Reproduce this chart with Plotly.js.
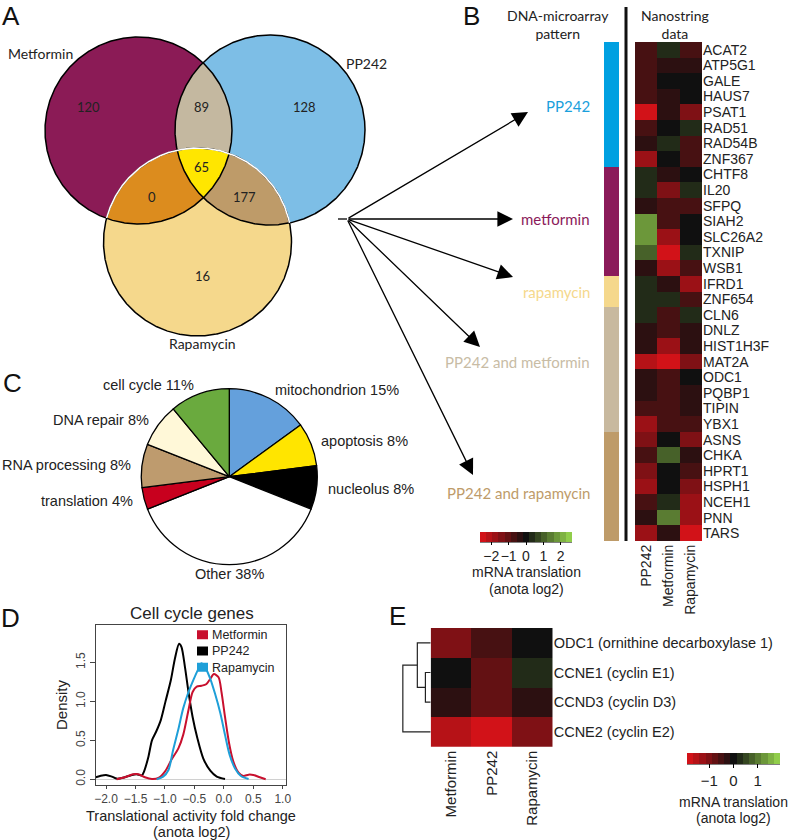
<!DOCTYPE html>
<html><head><meta charset="utf-8">
<script src="https://cdn.plot.ly/plotly-3.0.1.min.js"></script>
<style>html,body{margin:0;padding:0;background:#fff}</style>
</head><body><div id="chart" style="width:790px;height:840px"></div>
<script>
// ---------------- DATA ----------------
// A: Venn
const vennSetNames = ['Metformin','PP242','Rapamycin'];
const vennRegionNames = ['Metformin only','Metformin & PP242','PP242 only','all three','Metformin & Rapamycin','PP242 & Rapamycin','Rapamycin only'];
const vennRegionCounts = [120, 89, 128, 65, 0, 177, 16];

// B: Nanostring heatmap
const nanoGenes = ['ACAT2','ATP5G1','GALE','HAUS7','PSAT1','RAD51','RAD54B','ZNF367',
  'CHTF8','IL20','SFPQ','SIAH2','SLC26A2','TXNIP','WSB1','IFRD1','ZNF654',
  'CLN6','DNLZ','HIST1H3F','MAT2A','ODC1','PQBP1','TIPIN','YBX1',
  'ASNS','CHKA','HPRT1','HSPH1','NCEH1','PNN','TARS'];
const nanoConditions = ['PP242','Metformin','Rapamycin'];
const nanoPP242 = [-0.7,-0.7,-0.7,-0.7,-2.5,-0.6,-0.45,-1.8,
  0.3,0.3,-0.45,1.6,1.9,0.9,-0.35,0.3,0.3,
  0.3,-0.45,-0.45,-2.0,-0.45,-0.45,-0.65,-1.7,
  -1.4,-0.6,-1.4,-1.8,-0.65,-0.35,-1.8];
const nanoMetformin = [0.35,-0.45,0.0,-0.4,-0.45,0.0,0.35,0.0,
  -0.45,-1.3,-0.7,-0.7,-1.8,-2.5,-1.7,-0.4,0.3,
  -0.7,-0.7,-1.7,-2.6,-0.7,-0.7,-0.65,-0.7,
  0.0,0.95,0.0,0.0,0.35,1.45,-0.4];
const nanoRapamycin = [-0.7,-0.5,0.0,0.0,-1.5,0.3,-0.6,-0.6,
  0.0,0.3,-0.7,0.0,0.0,0.3,-0.7,-1.8,-0.6,
  0.4,-0.45,-0.45,-1.4,0.0,-0.45,-0.45,-0.7,
  -1.4,-0.45,-0.8,-1.3,-1.7,-1.7,-2.5];
const patternNames = ['PP242','metformin','rapamycin','PP242 and metformin','PP242 and rapamycin'];
const patternCounts = [8, 7, 2, 8, 7];
const nanoTicks = [-2,-1,0,1,2];

// C: pie
const pieLabels = ['mitochondrion','apoptosis','nucleolus','Other','translation','RNA processing','DNA repair','cell cycle'];
const pieValues = [15, 8, 8, 38, 4, 8, 8, 11];

// D: density curves (x = fold change, y = density)
const densMetforminX = [-1.82,-1.68,-1.54,-1.45,-1.34,-1.22,-1.11,-1.00,-0.89,-0.77,-0.69,-0.60,-0.53,-0.46,-0.38,-0.30,-0.23,-0.17,-0.09,-0.04,0.02,0.09,0.16,0.25,0.33,0.42,0.50,0.61,0.71];
const densMetforminY = [0.0,0.026,0.064,0.064,0.026,0.004,0.017,0.098,0.25,0.40,0.57,0.89,1.12,1.19,1.20,1.22,1.29,1.35,1.31,1.12,0.80,0.46,0.23,0.085,0.043,0.06,0.056,0.026,0.0];
const densPP242X = [-2.175,-2.10,-2.00,-1.90,-1.82,-1.71,-1.56,-1.48,-1.39,-1.355,-1.28,-1.22,-1.15,-1.07,-0.99,-0.90,-0.83,-0.76,-0.72,-0.66,-0.60,-0.53,-0.45,-0.35,-0.23,-0.12,0.02];
const densPP242Y = [0.026,0.043,0.056,0.034,0.009,0.021,0.056,0.064,0.051,0.10,0.29,0.50,0.61,0.76,1.00,1.27,1.55,1.74,1.70,1.44,1.12,0.80,0.53,0.27,0.11,0.034,0.004];
const densRapamycinX = [-1.14,-1.03,-0.94,-0.86,-0.77,-0.69,-0.60,-0.52,-0.43,-0.38,-0.32,-0.23,-0.15,-0.06,0.02,0.10,0.19,0.29,0.42];
const densRapamycinY = [0.0,0.034,0.12,0.38,0.65,0.91,1.12,1.27,1.42,1.49,1.44,1.29,1.10,0.85,0.57,0.31,0.14,0.043,0.004];
const densLegendNames = ['Metformin','PP242','Rapamycin'];
const densTicksX = [-2.0,-1.5,-1.0,-0.5,0.0,0.5,1.0];
const densTicksY = [0.0,0.5,1.0,1.5];

// E: cell-cycle heatmap + dendrogram
const eGenes = ['ODC1 (ornithine decarboxylase 1)','CCNE1 (cyclin E1)','CCND3 (cyclin D3)','CCNE2 (cyclin E2)'];
const eConditions = ['Metformin','PP242','Rapamycin'];
const eMetformin = [-0.95,-0.05,-0.3,-1.6];
const eP242 = [-0.4,-0.9,-0.9,-1.8];
const eRapamycin = [-0.02,0.3,-0.25,-1.0];
const eDendroMerges = [[1,2,0.19],[0,-1,0.48],[-2,3,1.0]]; // negative index = earlier merge
const eTicks = [-1,0,1];

// ---------------- STYLE / GEOMETRY ----------------
const W = 790, H = 840;
const FONT = 'Liberation Sans, Arial, sans-serif';
const FONT2 = 'Lato, Liberation Sans, sans-serif';
const circ = {
  M: {cx:138.5, cy:130.5, r:93.5},
  P: {cx:270, cy:130, r:95},
  R: {cx:197.5, cy:242, r:94}
};
const vennColors = {M:'#8B1B56', P:'#7DBEE6', MP:'#C4B8A0', R:'#F5D88C', MR:'#DC8C1E', PR:'#BE9B69', MPR:'#FFE600'};
const vennCountPos = [[88,107],[201,107],[304,107],[201,167],[152,197],[244,197],[202,276]];
const patternColors = ['#00A0E1','#8B1B5A','#F5D88C','#C8B99F','#BE9B69'];
const patternTextColors = ['#1AA0DC','#8B1B5A','#F5D88C','#C8BCA5','#BE9B69'];
const patternLabelY = [106, 219, 292, 362, 493];
const arrowTips = [[528,112],[513,219],[513,277],[480,347],[473,475]];
const arrowOrigin = [347,219];
const pieColors = ['#64A0DC','#FFE500','#000000','#FFFFFF','#C8001E','#BE9B6E','#FFF8D8','#6AAA3E'];
const pieC = {cx:229.3, cy:476.7, r:88};
const densColors = {Metformin:'#C8102E', PP242:'#000000', Rapamycin:'#1E9FD8'};
const densLegend = {x:197, yMid:651, font:12.5};

function mix(a,b,u){return 'rgb('+a.map((v,i)=>Math.round(v+(b[i]-v)*u)).join(',')+')';}
function steppedScale(n, neg, mid, pos){
  const s=[];
  for(let i=0;i<n;i++){
    const t=i/(n-1);
    const c = t<=0.5 ? mix(neg,mid,t/0.5) : mix(mid,pos,(t-0.5)/0.5);
    s.push([i/n,c]); s.push([(i+1)/n,c]);
  }
  return s;
}
const rgScale = steppedScale(15,[210,18,24],[16,16,16],[145,205,75]);

// ---------------- VENN geometry ----------------
function circlePts(c,n){const a=[];for(let i=0;i<n;i++){const t=2*Math.PI*i/n;a.push([c.cx+c.r*Math.cos(t),c.cy+c.r*Math.sin(t)]);}return a;}
function inC(p,c){const dx=p[0]-c.cx,dy=p[1]-c.cy;return dx*dx+dy*dy<=c.r*c.r+1e-6;}
function interPoly(cs){
  const pts=[];
  cs.forEach((c,i)=>circlePts(c,1440).forEach(p=>{if(cs.every((d,j)=>j===i||inC(p,d)))pts.push(p);}));
  const mx=pts.reduce((s,p)=>s+p[0],0)/pts.length, my=pts.reduce((s,p)=>s+p[1],0)/pts.length;
  pts.sort((a,b)=>Math.atan2(a[1]-my,a[0]-mx)-Math.atan2(b[1]-my,b[0]-mx));
  return pts;
}
function polyTrace(pts,color){
  return {type:'scatter',mode:'lines',x:pts.map(p=>p[0]).concat([pts[0][0]]),y:pts.map(p=>p[1]).concat([pts[0][1]]),
    fill:'toself',fillcolor:color,line:{width:0},hoverinfo:'skip',showlegend:false,xaxis:'x',yaxis:'y'};
}
function lineTrace(pts,color,w,close){
  const xs=pts.map(p=>p[0]), ys=pts.map(p=>p[1]);
  if(close){xs.push(pts[0][0]);ys.push(pts[0][1]);}
  return {type:'scatter',mode:'lines',x:xs,y:ys,line:{color:color,width:w},hoverinfo:'skip',showlegend:false,xaxis:'x',yaxis:'y'};
}
const traces = [];
traces.push(polyTrace(circlePts(circ.M,720),vennColors.M));
traces.push(polyTrace(circlePts(circ.P,720),vennColors.P));
traces.push(polyTrace(interPoly([circ.M,circ.P]),vennColors.MP));
traces.push(polyTrace(circlePts(circ.R,720),vennColors.R));
traces.push(polyTrace(interPoly([circ.M,circ.R]),vennColors.MR));
traces.push(polyTrace(interPoly([circ.P,circ.R]),vennColors.PR));
traces.push(polyTrace(interPoly([circ.M,circ.P,circ.R]),vennColors.MPR));
traces.push(lineTrace(circlePts(circ.M,720),'#000',1.5,true));
traces.push(lineTrace(circlePts(circ.P,720),'#000',1.5,true));
traces.push(lineTrace(circlePts(circ.R,720),'#000',1.5,true));
(function(){
  const arc=[];
  for(let i=0;i<=1440;i++){const t=-Math.PI+2*Math.PI*i/1440;const a=-Math.PI/2+t;
    const p=[circ.R.cx+circ.R.r*Math.cos(a),circ.R.cy+circ.R.r*Math.sin(a)];
    if(inC(p,circ.M)||inC(p,circ.P))arc.push(p);}
  traces.push(lineTrace(arc,'#fff',1.6,false));
})();

// ---------------- B heatmaps ----------------
const rowIdx = nanoGenes.map((g,i)=>i);
traces.push({type:'heatmap',z:nanoGenes.map((g,i)=>[nanoPP242[i],nanoMetformin[i],nanoRapamycin[i]]),
  x:[0,1,2],y:rowIdx,coloraxis:'coloraxis',xaxis:'x2',yaxis:'y2',hoverinfo:'skip'});
const patternRows=[];
patternCounts.forEach((n,k)=>{for(let i=0;i<n;i++)patternRows.push([k]);});
const patScale=[];
patternColors.forEach((c,k)=>{patScale.push([k/patternColors.length,c]);patScale.push([(k+1)/patternColors.length,c]);});
traces.push({type:'heatmap',z:patternRows,x:[0],y:rowIdx,zmin:-0.5,zmax:patternColors.length-0.5,colorscale:patScale,
  showscale:false,xaxis:'x3',yaxis:'y3',hoverinfo:'skip'});

// ---------------- C pie ----------------
traces.push({type:'pie',labels:pieLabels,values:pieValues,sort:false,direction:'clockwise',rotation:0,
  marker:{colors:pieColors,line:{color:'#000',width:1.3}},textinfo:'none',hoverinfo:'skip',showlegend:false,
  domain:{x:[(pieC.cx-pieC.r)/W,(pieC.cx+pieC.r)/W],y:[1-(pieC.cy+pieC.r)/H,1-(pieC.cy-pieC.r)/H]}});

// ---------------- D density ----------------
[['PP242',densPP242X,densPP242Y],['Metformin',densMetforminX,densMetforminY],['Rapamycin',densRapamycinX,densRapamycinY]].forEach(d=>{
  traces.push({type:'scatter',mode:'lines',x:d[1],y:d[2],line:{color:densColors[d[0]],width:2,shape:'spline',smoothing:0.8},
    xaxis:'x4',yaxis:'y4',showlegend:false,hoverinfo:'skip'});
});

// ---------------- E heatmap + dendrogram ----------------
traces.push({type:'heatmap',z:eGenes.map((g,i)=>[eMetformin[i],eP242[i],eRapamycin[i]]),x:[0,1,2],y:eGenes.map((g,i)=>i),
  coloraxis:'coloraxis2',xaxis:'x5',yaxis:'y5',hoverinfo:'skip'});
(function(){
  const nodes=eGenes.map((g,i)=>({y:i,h:0}));
  const merged=[];
  const get=k=>k>=0?nodes[k]:merged[-k-1];
  const xs=[],ys=[];
  eDendroMerges.forEach(m=>{
    const a=get(m[0]),b=get(m[1]),h=m[2];
    xs.push(a.h,h,h,b.h,null);ys.push(a.y,a.y,b.y,b.y,null);
    merged.push({y:(a.y+b.y)/2,h:h});
  });
  traces.push({type:'scatter',mode:'lines',x:xs,y:ys,line:{color:'#222',width:1.2},xaxis:'x6',yaxis:'y6',showlegend:false,hoverinfo:'skip'});
})();

// ---------------- annotations ----------------
const ann=[];
function txt(x,y,t,opt){ann.push(Object.assign({xref:'x',yref:'y',x:x,y:y,text:t,showarrow:false,font:{family:FONT,size:14,color:'#222'}},opt||{}));}
// panel letters
[['A',11,16],['B',471,16],['C',12,383],['D',10,618],['E',397,616]].forEach(l=>txt(l[1],l[2],l[0],{font:{family:FONT,size:26,color:'#111'}}));
// venn labels
txt(40,53,vennSetNames[0],{font:{family:FONT2,size:14,color:'#222'}});
txt(366,63,vennSetNames[1],{font:{family:FONT2,size:14,color:'#222'}});
txt(202,343,vennSetNames[2],{font:{family:FONT2,size:14,color:'#222'}});
vennRegionCounts.forEach((c,i)=>txt(vennCountPos[i][0],vennCountPos[i][1],String(c),{font:{family:FONT2,size:13,color:'#222'}}));
// B headers
txt(558,24,'DNA-microarray<br>pattern',{font:{family:FONT2,size:14,color:'#222'}});
txt(675,24,'Nanostring<br>data',{font:{family:FONT2,size:14,color:'#222'}});
patternNames.forEach((n,k)=>txt(592,patternLabelY[k],n,{xanchor:'right',font:{family:FONT2,size:15,color:patternTextColors[k]}}));
arrowTips.forEach(t=>ann.push({xref:'x',yref:'y',axref:'x',ayref:'y',x:t[0],y:t[1],ax:arrowOrigin[0],ay:arrowOrigin[1],
  text:'',showarrow:true,arrowhead:2,arrowsize:2.4,arrowwidth:1.3,arrowcolor:'#000',standoff:0,startstandoff:0}));
// colorbar titles
txt(526,572,'mRNA translation',{font:{family:FONT,size:14,color:'#222'}});
txt(526,589,'(anota log2)',{font:{family:FONT,size:14,color:'#222'}});
txt(733.5,802,'mRNA translation',{font:{family:FONT,size:14,color:'#222'}});
txt(733.5,818,'(anota log2)',{font:{family:FONT,size:14,color:'#222'}});
// pie labels
(function(){
  const tot=pieValues.reduce((a,b)=>a+b,0);let cum=0;
  pieLabels.forEach((l,i)=>{
    const mid=(cum+pieValues[i]/2)/tot*2*Math.PI;cum+=pieValues[i];
    const s=Math.sin(mid),c=Math.cos(mid),d=97;
    const xa=s>0.3?'left':(s<-0.3?'right':'center');
    txt(pieC.cx+d*s,pieC.cy-d*c,l+' '+pieValues[i]+'%',{xanchor:xa,font:{family:FONT,size:14.5,color:'#222'}});
  });
})();
// D titles + legend
txt(192,613,'Cell cycle genes',{font:{family:FONT,size:17,color:'#222'}});
txt(191,815.5,'Translational activity fold change',{font:{family:FONT,size:14.5,color:'#222'}});
txt(191,832,'(anota log2)',{font:{family:FONT,size:14.5,color:'#222'}});
const shapes=[
  {type:'line',xref:'x',yref:'y',x0:338,x1:347,y0:219,y1:219,line:{color:'#000',width:1.3}},
  {type:'line',xref:'x',yref:'y',x0:626,x1:626,y0:7,y1:541,line:{color:'#111',width:3}},
  {type:'line',xref:'x',yref:'y',x0:480,x1:572,y0:542,y1:542,line:{color:'#000',width:1.2}},
  {type:'line',xref:'x',yref:'y',x0:687,x1:780,y0:764,y1:764,line:{color:'#000',width:1.2}}
];
(function(){
  const lh=densLegend.font*1.3, n=densLegendNames.length;
  densLegendNames.forEach((nm,k)=>{
    const yc=densLegend.yMid+(k-(n-1)/2)*lh;
    shapes.push({type:'rect',xref:'x',yref:'y',x0:densLegend.x,x1:densLegend.x+11,y0:yc-4.5,y1:yc+4.5,fillcolor:densColors[nm],line:{width:0}});
  });
  txt(densLegend.x+13,densLegend.yMid,densLegendNames.join('<br>'),{xanchor:'left',align:'left',font:{family:FONT,size:densLegend.font,color:'#222'}});
})();

const noAx={showgrid:false,zeroline:false,automargin:false,fixedrange:true};
const layout={
  width:W,height:H,margin:{l:0,r:0,t:0,b:0,autoexpand:false},
  paper_bgcolor:'#fff',plot_bgcolor:'rgba(0,0,0,0)',
  font:{family:FONT,color:'#222'},
  showlegend:false,
  xaxis:Object.assign({},noAx,{domain:[0,1],range:[0,W],visible:false}),
  yaxis:Object.assign({},noAx,{domain:[0,1],range:[H,0],visible:false}),
  xaxis2:Object.assign({},noAx,{domain:[635/W,702/W],anchor:'y2',range:[-0.5,2.5],tickvals:[0,1,2],ticktext:nanoConditions,tickangle:-90,tickfont:{size:14},ticks:''}),
  yaxis2:Object.assign({},noAx,{domain:[1-541/H,1-42/H],anchor:'x2',side:'right',range:[nanoGenes.length-0.5,-0.5],tickvals:rowIdx,ticktext:nanoGenes,tickfont:{size:14},ticks:''}),
  xaxis3:Object.assign({},noAx,{domain:[604/W,619/W],anchor:'y3',range:[-0.5,0.5],visible:false}),
  yaxis3:Object.assign({},noAx,{domain:[1-541/H,1-42/H],anchor:'x3',range:[nanoGenes.length-0.5,-0.5],visible:false}),
  xaxis4:Object.assign({},noAx,{domain:[95.7/W,285.7/W],anchor:'y4',range:[-2.175,1.05],tickvals:densTicksX,tickformat:'.1f',
    showline:true,mirror:true,linecolor:'#444',linewidth:1,ticks:'outside',ticklen:3,tickcolor:'#444',tickfont:{size:12,color:'#444'}}),
  yaxis4:Object.assign({},noAx,{domain:[1-785/H,1-625/H],anchor:'x4',range:[-0.073,1.98],tickvals:densTicksY,tickformat:'.1f',tickangle:-90,
    showline:true,mirror:true,linecolor:'#444',linewidth:1,ticks:'outside',ticklen:5,tickcolor:'#444',tickfont:{size:12,color:'#444'},
    zeroline:true,zerolinecolor:'#d0d0d0',zerolinewidth:1,
    title:{text:'Density',font:{size:15,color:'#222'},standoff:2}}),
  xaxis5:Object.assign({},noAx,{domain:[430.7/W,552.7/W],anchor:'y5',range:[-0.5,2.5],tickvals:[0,1,2],ticktext:eConditions,tickangle:-90,tickfont:{size:15},ticks:''}),
  yaxis5:Object.assign({},noAx,{domain:[1-746.7/H,1-628/H],anchor:'x5',side:'right',range:[eGenes.length-0.5,-0.5],tickvals:eGenes.map((g,i)=>i),ticktext:eGenes,tickfont:{size:14.5},ticks:''}),
  xaxis6:Object.assign({},noAx,{domain:[402/W,430.7/W],anchor:'y6',range:[1.03,0],visible:false}),
  yaxis6:Object.assign({},noAx,{domain:[1-746.7/H,1-628/H],anchor:'x6',range:[eGenes.length-0.5,-0.5],visible:false}),
  coloraxis:{cmin:-2.65,cmax:2.65,colorscale:rgScale,colorbar:{orientation:'h',thickness:10,thicknessmode:'pixels',len:92,lenmode:'pixels',
    x:526/W,xanchor:'center',y:1-532/H,yanchor:'top',xpad:0,ypad:0,outlinewidth:0,tickvals:nanoTicks,ticks:'outside',ticklen:3,tickcolor:'#000',
    tickangle:0,tickfont:{size:14,color:'#222'},title:{text:''}}},
  coloraxis2:{cmin:-1.93,cmax:1.93,colorscale:rgScale,colorbar:{orientation:'h',thickness:11,thicknessmode:'pixels',len:93,lenmode:'pixels',
    x:733.5/W,xanchor:'center',y:1-753/H,yanchor:'top',xpad:0,ypad:0,outlinewidth:0,tickvals:eTicks,ticks:'outside',ticklen:4,tickcolor:'#000',
    tickangle:0,tickfont:{size:15,color:'#222'},title:{text:''}}},
  annotations:ann,shapes:shapes
};
Plotly.newPlot('chart',traces,layout,{displayModeBar:false,staticPlot:true});
</script></body></html>
